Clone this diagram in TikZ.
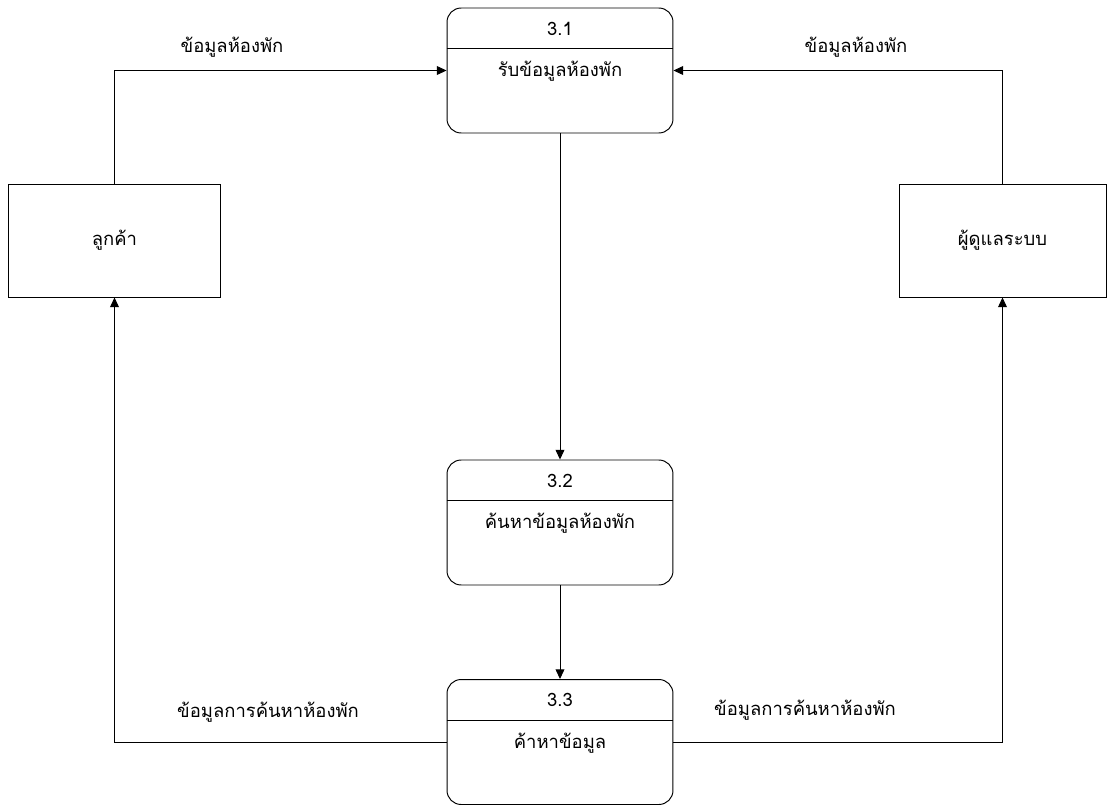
\documentclass[tikz,border=0pt]{standalone}
\usepackage{fontspec}
\newfontfamily\thaifont[Script=Thai]{Loma}
\usetikzlibrary{arrows.meta}

\begin{document}
\begin{tikzpicture}[x=0.02cm,y=-0.02cm,font=\thaifont\fontsize{10.5}{12}\selectfont,
  proc/.style={draw,line width=0.55pt,rounded corners=8pt,minimum width=4.52cm,minimum height=2.5cm,inner sep=0pt},
  ent/.style={draw,line width=0.55pt,minimum width=4.26cm,minimum height=2.26cm,inner sep=0pt},
  flow/.style={line width=0.55pt,-{Triangle[length=5.5pt,width=5pt]}}]
 \useasboundingbox (0,0) rectangle (1107,805);
 \node[proc] (p1) at (560,70.5) {}; %3.1
 \node[proc] (p2) at (560,522.5) {}; %3.2
 \node[proc] (p3) at (560,742) {}; %3.3
 \node[ent] (cust) at (114.5,240.5) {ลูกค้า}; %ลูกค้า
 \node[ent,minimum width=4.14cm] (admin) at (1002.5,240.5) {ผู้ดูแลระบบ}; %ผู้ดูแลระบบ
 \foreach \p/\n/\t in {p1/3.1/รับข้อมูลห้องพัก, p2/3.2/ค้นหาข้อมูลห้องพัก, p3/3.3/ค้าหาข้อมูล}{
  \draw[line width=0.55pt] ([yshift=-41*0.02cm]\p.north west)--([yshift=-41*0.02cm]\p.north east);
  \node[anchor=center] at ([yshift=-21*0.02cm]\p.north) {\n};
  \node[anchor=center] at ([yshift=-64*0.02cm]\p.north) {\t};
 }
 \coordinate (c1) at (cust.north |- p1.west); %มุมซ้ายบน
 \coordinate (c2) at (admin.north |- p1.east); %มุมขวาบน
 \coordinate (c3) at (cust.south |- p3.west); %มุมซ้ายล่าง
 \coordinate (c4) at (admin.south |- p3.east); %มุมขวาล่าง
 \draw[flow] (cust.north)--(c1)--(p1.west);
 \draw[flow] (admin.north)--(c2)--(p1.east);
 \draw[flow] (p1.south)--(p2.north);
 \draw[flow] (p2.south)--(p3.north);
 \draw[flow] (p3.west)--(c3)--(cust.south);
 \draw[flow] (p3.east)--(c4)--(admin.south);
 \node (l1) at (232,47) {ข้อมูลห้องพัก};
 \node (l2) at (856,47) {ข้อมูลห้องพัก};
 \node (l3) at (268,712) {ข้อมูลการค้นหาห้องพัก};
 \node (l4) at (805,710) {ข้อมูลการค้นหาห้องพัก};
\end{tikzpicture}
\end{document}
